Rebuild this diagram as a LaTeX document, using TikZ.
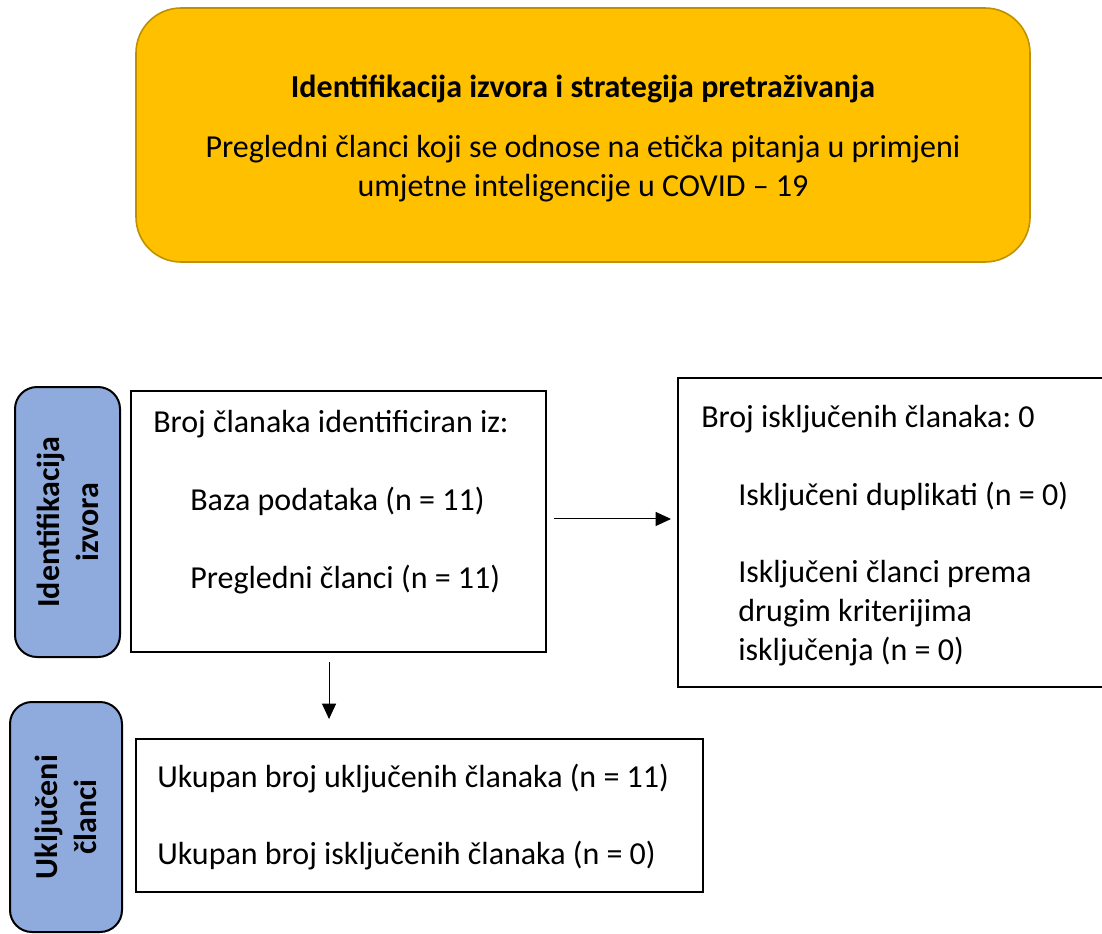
\documentclass[tikz,border=0pt]{standalone}
\usepackage{fontspec}
\setmainfont{Carlito}
\usetikzlibrary{arrows.meta}
\definecolor{zuta}{HTML}{FFC000}
\definecolor{zutarub}{HTML}{BF9000}
\definecolor{plava}{HTML}{8FAADC}
\frenchspacing
\begin{document}
\fontsize{24}{29.25}\selectfont
\begin{tikzpicture}[x=0.75pt,y=-0.75pt,
  okvir/.style={draw,line width=1.5pt,inner sep=0pt},
  faza/.style={draw,line width=1.5pt,fill=plava,rounded corners=16.5pt,inner sep=0pt},
  tekst/.style={inner sep=0pt,anchor=base west},
  strelica/.style={-{Triangle[length=11.5pt,width=10.5pt]},line width=0.75pt}]
\clip(0,0) rectangle (1102,933);
% gornji okvir
\node[draw=zutarub,line width=1.2pt,fill=zuta,rounded corners=33.75pt,minimum width=670.5pt,minimum height=190.5pt,inner sep=0pt](izvor) at (583,135){};
\node[inner sep=0pt,anchor=base](naslov) at (583,97){\textbf{Identifikacija izvora i strategija pretraživanja}};
\node[inner sep=0pt,anchor=base,align=center](opis) at (583,196){Pregledni članci koji se odnose na etička pitanja u primjeni\\umjetne inteligencije u COVID -- 19};
% faze
\node[faza,minimum width=78.75pt,minimum height=202.5pt](faza1) at (67.5,522){};
\node[rotate=90,align=center,inner sep=0pt](faza1t) at (faza1){\textbf{Identifikacija}\\\textbf{izvora}};
\node[faza,minimum width=84pt,minimum height=172.5pt](faza2) at (66,817){};
\node[rotate=90,align=center,inner sep=0pt](faza2t) at (faza2){\textbf{Uključeni}\\\textbf{članci}};
% okviri
\node[okvir,minimum width=311.25pt,minimum height=195.75pt](ident) at (338.5,521.5){};
\node[tekst](ident1) at (153,432){Broj članaka identificiran iz:};
\node[tekst](ident2) at (190,510){Baza podataka (n = 11)};
\node[tekst](ident3) at (190,588){Pregledni članci (n = 11)};
\node[okvir,minimum width=324pt,minimum height=231.75pt](iskl) at (894,532.5){};
\node[tekst](iskl1) at (701,427){Broj isključenih članaka: 0};
\node[tekst](iskl2) at (738,505){Isključeni duplikati (n = 0)};
\node[tekst,align=left](iskl3) at (738,660){Isključeni članci prema\\drugim kriterijima\\isključenja (n = 0)};
\node[okvir,minimum width=425.25pt,minimum height=114.75pt](ukl) at (419.5,815.5){};
\node[tekst](ukl1) at (157,787){Ukupan broj uključenih članaka (n = 11)};
\node[tekst](ukl2) at (157,864){Ukupan broj isključenih članaka (n = 0)};
% strelice
\draw[strelica,shorten <=5.25pt,shorten >=4.5pt]([yshift=1.9pt]ident.east)--([yshift=1.9pt]ident.east -| iskl.west);
\draw[strelica,shorten <=6.75pt,shorten >=14.25pt]([xshift=-7.1pt]ident.south)--([xshift=-7.1pt]ident.south |- ukl.north);
\end{tikzpicture}
\end{document}
